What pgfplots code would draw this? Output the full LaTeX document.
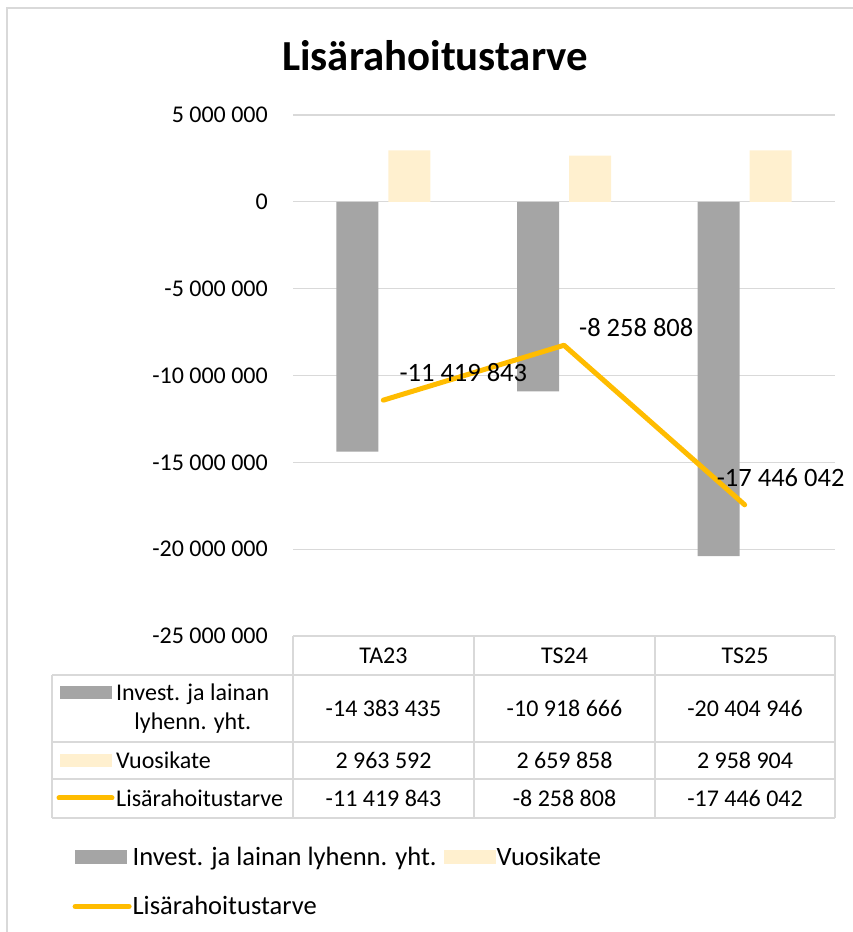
\documentclass[border=0pt]{standalone}
\usepackage{fontspec}
\setmainfont{Carlito}
\usepackage{pgfplots}
\pgfplotsset{compat=1.18}
\definecolor{barGray}{HTML}{A5A5A5}
\definecolor{barCream}{HTML}{FFF0CF}
\definecolor{lineGold}{HTML}{FFBC00}
\definecolor{gridGray}{HTML}{D9D9D9}
\begin{document}
\begin{tikzpicture}[x=1pt,y=1pt]
\path[use as bounding box] (0,0) rectangle (853,932);
\clip (0,0) rectangle (853,932);
\draw[gridGray, line width=2pt] (7,-20) rectangle (880,924);
\node[font=\fontsize{42.8}{50}\selectfont\bfseries] at (435,876) {Lisärahoitustarve};
\begin{axis}[
  at={(293pt,296pt)}, anchor=south west,
  scale only axis, width=542pt, height=521pt,
  xmin=-0.5, xmax=2.5, ymin=-25000000, ymax=5000000,
  scaled y ticks=false,
  ytick={-25000000,-20000000,-15000000,-10000000,-5000000,0,5000000},
  yticklabels={-25 000 000,-20 000 000,-15 000 000,-10 000 000,-5 000 000,0,5 000 000},
  xtick=\empty,
  axis line style={draw=none},
  major tick length=0pt,
  ymajorgrids, grid style={gridGray, line width=1.2pt},
  yticklabel style={font=\fontsize{24}{28}\selectfont, inner sep=0pt, xshift=-25pt, anchor=east},
  clip=false,
  legend columns=2,
  legend style={at={(-0.407,-0.4021)}, anchor=north west, draw=none, fill=none,
    font=\fontsize{26.5}{30}\selectfont, legend cell align=left,
    /tikz/every even column/.append style={column sep=6pt},
    row sep=28pt, inner sep=0pt, nodes={inner sep=1pt}},
]
\addplot[ybar, bar width=42pt, bar shift=-26pt, fill=barGray, draw=none,
  legend image code/.code={\fill[barGray] (0pt,-7pt) rectangle (52pt,7pt);}]
  coordinates {(0,-14383435) (1,-10918666) (2,-20404946)};
\addlegendentry{Invest. ja lainan lyhenn. yht.}
\addplot[ybar, bar width=42pt, bar shift=26pt, fill=barCream, draw=none,
  legend image code/.code={\fill[barCream] (0pt,-7pt) rectangle (52pt,7pt);}]
  coordinates {(0,2963592) (1,2659858) (2,2958904)};
\addlegendentry{Vuosikate}
\addplot[lineGold, line width=5pt, line cap=round, line join=round, mark=none,
  legend image code/.code={\draw[lineGold, line width=5pt, line cap=round] (0pt,0pt) -- (54pt,0pt);}]
  coordinates {(0,-11419843) (1,-8258808) (2,-17446042)};
\addlegendentry{Lisärahoitustarve}
\addplot[forget plot, draw=none, mark=none, point meta=explicit symbolic, nodes near coords,
  nodes near coords style={font=\fontsize{26.5}{30}\selectfont, anchor=west, inner sep=0pt, xshift=16pt, yshift=28pt}]
  coordinates {(0,-11419843) [-11 419 843]};
\addplot[forget plot, draw=none, mark=none, point meta=explicit symbolic, nodes near coords,
  nodes near coords style={font=\fontsize{26.5}{30}\selectfont, anchor=west, inner sep=0pt, xshift=15pt, yshift=18pt}]
  coordinates {(1,-8258808) [-8 258 808]};
\addplot[forget plot, draw=none, mark=none, point meta=explicit symbolic, nodes near coords,
  nodes near coords style={font=\fontsize{26.5}{30}\selectfont, anchor=west, inner sep=0pt, xshift=-28pt, yshift=27pt}]
  coordinates {(2,-17446042) [-17 446 042]};
\end{axis}
% data table
\begin{scope}[gridGray, line width=1.2pt]
\draw (293,296) -- (835,296);
\foreach \yy in {257,190,153,114} {\draw (52,\yy) -- (835,\yy);}
\foreach \xx in {293,474,655,835} {\draw (\xx,296) -- (\xx,114);}
\draw (52,257) -- (52,114);
\end{scope}
\begin{scope}[every node/.style={font=\fontsize{24}{29}\selectfont, inner sep=0pt}]
\node at (383.5,276.5) {TA23};
\node at (564.5,276.5) {TS24};
\node at (745,276.5) {TS25};
\node at (383.5,223.5) {-14 383 435};
\node at (564.5,223.5) {-10 918 666};
\node at (745,223.5) {-20 404 946};
\node at (383.5,171.5) {2 963 592};
\node at (564.5,171.5) {2 659 858};
\node at (745,171.5) {2 958 904};
\node at (383.5,133.5) {-11 419 843};
\node at (564.5,133.5) {-8 258 808};
\node at (745,133.5) {-17 446 042};
\fill[barGray] (60,233) rectangle (112,246);
\node[anchor=west, align=center] at (116,223.5) {Invest. ja lainan\\lyhenn. yht.};
\fill[barCream] (60,165) rectangle (112,178);
\node[anchor=west] at (116,171.5) {Vuosikate};
\draw[lineGold, line width=5pt, line cap=round] (59,134) -- (112,134);
\node[anchor=west] at (116,133.5) {Lisärahoitustarve};
\end{scope}
\end{tikzpicture}
\end{document}
